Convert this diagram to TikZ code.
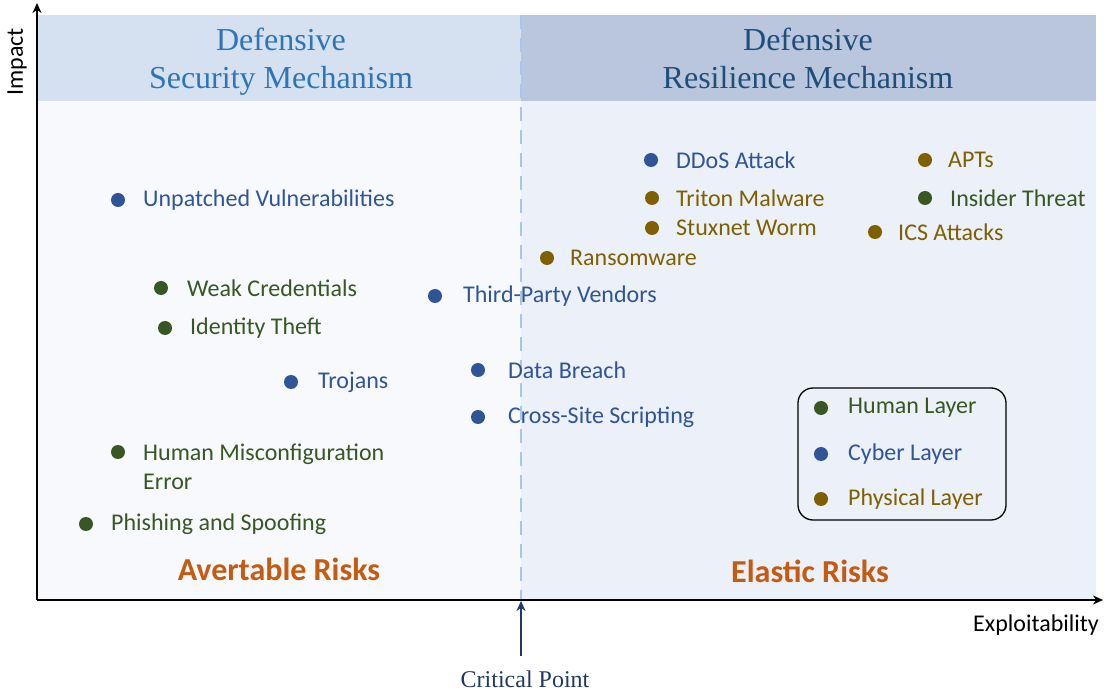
\documentclass[tikz,border=0pt]{standalone}
\usepackage{fontspec}
\setmainfont{Carlito}
\newfontfamily\headfont{Liberation Serif}
\usetikzlibrary{arrows.meta}
\definecolor{cblue}{HTML}{2F5597}
\definecolor{cgreen}{HTML}{385723}
\definecolor{cbrown}{HTML}{7F6000}
\definecolor{corange}{HTML}{C55A11}
\definecolor{hleft}{HTML}{D5E0F0}
\definecolor{hright}{HTML}{B9C6DE}
\definecolor{bleft}{HTML}{F7F9FD}
\definecolor{bright}{HTML}{EBF0F9}
\definecolor{hltext}{HTML}{2E75B6}
\definecolor{hrtext}{HTML}{1F4E79}
\definecolor{dashc}{HTML}{A9C6EA}
\definecolor{navy}{HTML}{1F3864}
\tikzset{
  dot/.style={circle, fill=#1, draw=none, inner sep=0pt, minimum size=14pt},
  lbl/.style={text=#1, inner sep=0pt, font=\fontsize{24}{29}\selectfont, anchor=west, align=left},
  headtxt/.style={text=#1, inner sep=0pt, font=\headfont\fontsize{32}{38}\selectfont, align=center},
  risk/.style={text=corange, inner sep=0pt, font=\bfseries\fontsize{32}{36}\selectfont},
  axis/.style={line width=2pt, -{Stealth[length=10pt,width=9pt]}},
  axlbl/.style={inner sep=0pt, font=\fontsize{24}{28}\selectfont}
}
\newcommand{\riskpt}[6]{%
  \node[dot=#4] (#1) at (#2,#3) {};
  \node[lbl=#4] (#1t) at (#5,#3) {#6};
}
\begin{document}
\begin{tikzpicture}[x=1pt,y=-1pt]
\useasboundingbox (0,0) rectangle (1104,692);
% backgrounds
\fill[hleft] (37,15) rectangle (521,101);
\fill[hright] (521,15) rectangle (1096,101);
\fill[bleft] (37,101) rectangle (521,599);
\fill[bright] (521,101) rectangle (1096,599);
% headers
\node[headtxt=hltext] (hl) at (281,61.5) {Defensive\\Security Mechanism};
\node[headtxt=hrtext] (hr) at (808,58) {Defensive\\Resilience Mechanism};
% dashed critical line
\coordinate (dtop) at (521,15);
\coordinate (dbot) at (521,599);
\draw[dashc, line width=2.5pt, dash pattern=on 14pt off 9pt] (dtop) -- (dbot);
% axes
\coordinate (origin) at (37,600);
\coordinate (ytop) at (37,3);
\coordinate (xend) at (1103,600);
\draw[axis] (origin) -- (ytop);
\draw[axis] (origin) -- (xend);
\node[axlbl, rotate=90] (impact) at (17,62) {Impact};
\node[axlbl] (expl) at (1036,625) {Exploitability};
% critical point
\node[text=navy, inner sep=0pt, font=\headfont\fontsize{24}{28}\selectfont] (cp) at (525,679) {Critical Point};
\coordinate (cpbot) at (521,656);
\coordinate (cptop) at (521,601);
\draw[navy, line width=2pt, -{Stealth[length=10pt,width=9pt]}] (cpbot) -- (cptop);
% risk points
\riskpt{ddos}{651}{160}{cblue}{676}{DDoS Attack}
\riskpt{apts}{925}{160}{cbrown}{948}{APTs}
\riskpt{triton}{652}{198}{cbrown}{676}{Triton Malware}
\riskpt{insider}{925}{198}{cgreen}{950}{Insider Threat}
\riskpt{stux}{652}{228}{cbrown}{676}{Stuxnet Worm}
\riskpt{ics}{875}{232}{cbrown}{898}{ICS Attacks}
\riskpt{ransom}{547}{258}{cbrown}{570}{Ransomware}
\riskpt{unpatched}{118}{200}{cblue}{143}{Unpatched Vulnerabilities}
\riskpt{weak}{161}{288}{cgreen}{187}{Weak Credentials}
\riskpt{third}{435}{296}{cblue}{463}{Third-Party Vendors}
\riskpt{ident}{165}{328}{cgreen}{190}{Identity Theft}
\riskpt{trojans}{291}{382}{cblue}{318}{Trojans}
\riskpt{breach}{478}{370}{cblue}{508}{Data Breach}
\riskpt{xss}{478}{417}{cblue}{508}{Cross-Site Scripting}
\node[dot=cgreen] (misconf) at (118,452) {};
\node[lbl=cgreen] (misconft) at (143,467) {Human Misconfiguration\\Error};
\riskpt{phish}{86}{524}{cgreen}{111}{Phishing and Spoofing}
% risk labels
\node[risk] (avert) at (279,569) {Avertable Risks};
\node[risk] (elastic) at (810,571) {Elastic Risks};
% legend
\draw[black, line width=1.3pt, rounded corners=15pt] (798,388) rectangle (1006,520);
\riskpt{human}{821}{408}{cgreen}{848}{Human Layer}
\riskpt{cyber}{821}{454}{cblue}{848}{Cyber Layer}
\riskpt{phys}{821}{499}{cbrown}{848}{Physical Layer}
\end{tikzpicture}
\end{document}
